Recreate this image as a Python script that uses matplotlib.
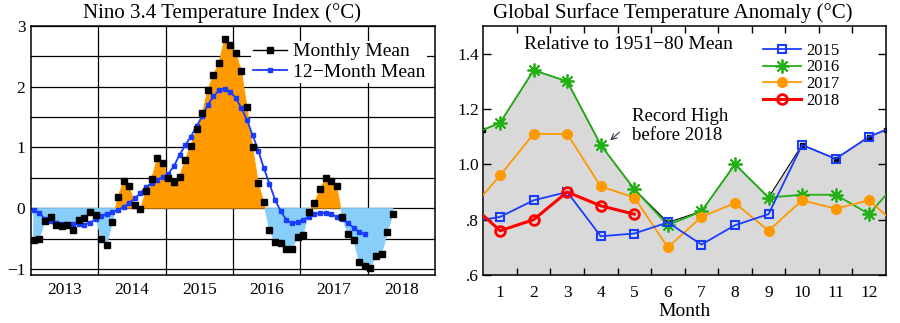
import numpy as np
import matplotlib
matplotlib.use("Agg")
import matplotlib.pyplot as plt
from matplotlib.lines import Line2D

plt.rcParams['font.family'] = ['Liberation Serif', 'DejaVu Serif']
plt.rcParams['axes.unicode_minus'] = True

# ---- Nino 3.4 data (Jan 2013 .. May 2018) ----
monthly_mean = [
    -0.53, -0.50, -0.21, -0.15, -0.27, -0.30, -0.27, -0.36, -0.19, -0.16, -0.07, -0.12,   # 2013
    -0.50, -0.60, -0.23, 0.18, 0.45, 0.37, 0.05, -0.02, 0.28, 0.48, 0.82, 0.75,          # 2014
    0.49, 0.43, 0.52, 0.80, 1.03, 1.30, 1.56, 1.94, 2.19, 2.39, 2.78, 2.69,              # 2015
    2.55, 2.26, 1.66, 1.01, 0.41, 0.10, -0.36, -0.56, -0.57, -0.68, -0.68, -0.48,        # 2016
    -0.44, -0.06, 0.08, 0.31, 0.49, 0.45, 0.36, -0.15, -0.43, -0.52, -0.89, -0.96,       # 2017
    -0.98, -0.78, -0.75, -0.40, -0.10,                                                   # 2018
]
# 12-month running mean (Jan 2013 .. Dec 2017)
twelve_month_mean = [
    -0.03, -0.08, -0.18, -0.21, -0.25, -0.26, -0.26, -0.26, -0.26, -0.27, -0.24, -0.18,
    -0.13, -0.09, -0.07, -0.03, 0.02, 0.09, 0.16, 0.25, 0.35, 0.41, 0.47, 0.51,
    0.57, 0.70, 0.88, 1.04, 1.18, 1.35, 1.51, 1.70, 1.84, 1.94, 1.97, 1.92,
    1.81, 1.65, 1.45, 1.20, 0.95, 0.66, 0.40, 0.14, -0.05, -0.19, -0.25, -0.23,
    -0.19, -0.14, -0.10, -0.08, -0.08, -0.10, -0.14, -0.18, -0.25, -0.32, -0.39, -0.43,
]
year_labels = ['2013', '2014', '2015', '2016', '2017', '2018']

# ---- Global surface temperature anomaly ----
months = list(range(1, 13))
month_labels = [str(m) for m in months]
dec_2014 = 0.79
t2015 = [0.81, 0.87, 0.90, 0.74, 0.75, 0.79, 0.71, 0.78, 0.82, 1.07, 1.02, 1.10]
t2016 = [1.15, 1.34, 1.30, 1.07, 0.91, 0.78, 0.83, 1.00, 0.88, 0.89, 0.89, 0.82]
t2017 = [0.96, 1.11, 1.11, 0.92, 0.88, 0.70, 0.81, 0.86, 0.76, 0.87, 0.84, 0.87]
t2018 = [0.76, 0.80, 0.90, 0.85, 0.82]

ORANGE = '#ff9900'
LBLUE = '#87cefa'
BLUE = '#1a3cff'
GREEN = '#22b014'
RED = '#ff0000'

fig = plt.figure(figsize=(9, 3.23), dpi=100)
ax1 = fig.add_axes([31 / 900, 48 / 323, 404 / 900, 249 / 323])
ax2 = fig.add_axes([483.3 / 900, 48 / 323, 402.7 / 900, 249 / 323])

# ================= left panel =================
mm = np.array(monthly_mean)
t_m = 2013 + (np.arange(len(mm)) + 0.5) / 12
t_12 = 2013 + (np.arange(len(twelve_month_mean)) + 0.5) / 12

ax1.fill_between(t_m, 0, mm, where=mm >= 0, interpolate=True, color=ORANGE, lw=0.6, zorder=1)
ax1.fill_between(t_m, 0, mm, where=mm <= 0, interpolate=True, color=LBLUE, lw=0.6, zorder=1)
ax1.plot(t_m, mm, ls='none', marker='s', ms=3.8, color='black', zorder=4)
ax1.plot(t_12, twelve_month_mean, color=BLUE, lw=1.3, marker='s', ms=3.3, zorder=3)

ax1.set_xlim(2013, 2019)
ax1.set_ylim(-1.1, 3)
ax1.set_xticks(range(2014, 2019))
ax1.set_xticklabels([])
ax1.set_xticks([2013.5 + i for i in range(len(year_labels))], minor=True)
ax1.set_xticklabels(year_labels, minor=True)
yt = np.arange(-1, 3.01, 0.5)
ax1.set_yticks(yt)
ax1.set_yticklabels(['\u22121' if v == -1 else (str(int(v)) if v == int(v) else '') for v in yt])
ax1.tick_params(axis='both', which='both', length=0, labelsize=12.5)
ax1.tick_params(axis='x', which='minor', pad=5)
ax1.tick_params(axis='y', pad=4)
ax1.set_axisbelow(True)
ax1.grid(True, which='major', color='black', lw=0.9)
for s in ax1.spines.values():
    s.set_linewidth(1.1)
ax1.set_title('Nino 3.4 Temperature Index (\u00b0C)', fontsize=15, x=0.472, pad=6)

h1 = [Line2D([], [], color='black', lw=1, marker='s', ms=3.8),
      Line2D([], [], color=BLUE, lw=1.3, marker='s', ms=3.3)]
leg1 = ax1.legend(h1, ['Monthly Mean', '12\u2212Month Mean'], loc='upper left',
                  bbox_to_anchor=(0.545, 0.94), fontsize=14, frameon=True,
                  facecolor='white', edgecolor='none', framealpha=1, fancybox=False,
                  handlelength=1.75, handletextpad=0.3, labelspacing=0.15,
                  borderpad=0.1, borderaxespad=0)

# ================= right panel =================
rec = np.maximum(np.maximum(t2015, t2016), t2017)
edge = (rec[0] + rec[-1]) / 2
rec_x = [0.5] + months + [12.5]
rec_y = [edge] + list(rec) + [edge]
ax2.fill_between(rec_x, 0.6, rec_y, color='#d9d9d9', lw=0, zorder=1)
ax2.plot(rec_x, rec_y, color='black', lw=0.8, marker='s', ms=3, zorder=2)

ext_x = [0] + months + [13]
ax2.plot(ext_x, [dec_2014] + t2015 + [t2016[0]], color=BLUE, lw=1.3, marker='s',
         ms=6, mfc='none', mec=BLUE, mew=1.5, zorder=5, label='2015')
ax2.plot(ext_x, [t2015[-1]] + t2016 + [t2017[0]], color=GREEN, lw=1.3, marker=(8, 2, 0),
         ms=10, mew=1.3, zorder=3, label='2016')
ax2.plot(ext_x, [t2016[-1]] + t2017 + [t2018[0]], color=ORANGE, lw=1.3, marker='o',
         ms=7, zorder=4, label='2017')
ax2.plot([0] + months[:len(t2018)], [t2017[-1]] + t2018, color=RED, lw=2.2, marker='o',
         ms=7, mfc='none', mec=RED, mew=2, zorder=6, label='2018')

ax2.set_xlim(0.5, 12.5)
ax2.set_ylim(0.6, 1.5)
ax2.set_xticks(months)
ax2.set_xticklabels(month_labels)
ax2.set_xticks([m + 0.5 for m in months[:-1]], minor=True)
ax2.set_yticks([0.6, 0.8, 1.0, 1.2, 1.4])
ax2.set_yticklabels(['.6', '.8', '1.0', '1.2', '1.4'])
ax2.tick_params(axis='x', which='major', length=0, labelsize=12.5, pad=7)
ax2.tick_params(axis='x', which='minor', direction='in', length=5, width=1, top=True, bottom=True)
ax2.tick_params(axis='y', direction='in', length=6, width=1, left=True, right=True,
                labelsize=12.5, pad=3)
for s in ax2.spines.values():
    s.set_linewidth(1.1)
ax2.set_title('Global Surface Temperature Anomaly (\u00b0C)', fontsize=15, x=0.471, pad=6)
ax2.set_xlabel('Month', fontsize=14, labelpad=2)

ax2.text(1.71, 1.433, 'Relative to 1951\u221280 Mean', fontsize=14, ha='left', va='center')
ax2.text(4.93, 1.137, 'Record High\nbefore 2018', fontsize=13.5, ha='left', va='center',
         linespacing=1.15)
ax2.annotate('', xy=(4.22, 1.08), xytext=(4.62, 1.123),
             arrowprops=dict(arrowstyle='->', color='#333355', lw=0.8))

ax2.legend(loc='upper left', bbox_to_anchor=(0.69, 0.94), fontsize=12, frameon=False,
           handlelength=2.3, handletextpad=0.3, labelspacing=0.05, borderpad=0.1,
           borderaxespad=0)

fig.savefig('out.png', dpi=100)
